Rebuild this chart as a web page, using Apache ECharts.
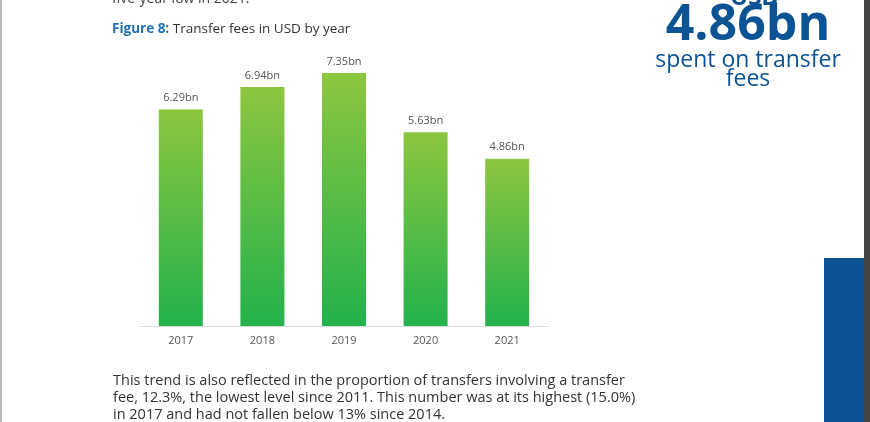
<!DOCTYPE html>
<html>
<head>
<meta charset="utf-8">
<script src="https://cdn.jsdelivr.net/npm/echarts@6/dist/echarts.min.js"></script>
<style>
html,body{margin:0;padding:0;background:#fff;}
#main{width:870px;height:422px;}
</style>
</head>
<body>
<div id="main"></div>
<script>
var years = ['2017', '2018', '2019', '2020', '2021'];
var fees = [6.29, 6.94, 7.35, 5.63, 4.86];
var textFont = "'Liberation Sans Narrow', 'Open Sans', sans-serif";
var para = [
    'This trend is also reflected in the proportion of transfers involving a transfer',
    'fee, 12.3%, the lowest level since 2011. This number was at its highest (15.0%)',
    'in 2017 and had not fallen below 13% since 2014.'
];

var mychart = echarts.init(document.getElementById('main'));
option = {
    backgroundColor: '#fff',
    animation: false,
    grid: { left: 140, right: 322, top: 73, bottom: 96 },
    xAxis: {
        type: 'category',
        data: years,
        axisTick: { show: false },
        axisLine: { lineStyle: { color: '#dddddd', width: 1 } },
        axisLabel: { color: '#555', fontSize: 11, margin: 9, fontFamily: textFont }
    },
    yAxis: {
        type: 'value',
        min: 0,
        max: 7.35,
        show: false,
        splitLine: { show: false }
    },
    series: [{
        type: 'bar',
        data: fees,
        barWidth: 44,
        itemStyle: {
            color: new echarts.graphic.LinearGradient(0, 0, 0, 1, [
                { offset: 0, color: '#8dc63f' },
                { offset: 1, color: '#22b24c' }
            ])
        },
        label: {
            show: true,
            position: 'top',
            distance: 6,
            color: '#555',
            fontSize: 11,
            fontFamily: textFont,
            formatter: function (p) { return p.value.toFixed(2) + 'bn'; }
        }
    }],
    graphic: [
        { type: 'rect', shape: { x: 0, y: 0, width: 2, height: 422 }, style: { fill: '#bbb' } },
        { type: 'rect', shape: { x: 864, y: 0, width: 6, height: 422 }, style: { fill: '#444' } },
        { type: 'rect', shape: { x: 824, y: 258, width: 40, height: 164 }, style: { fill: '#0b5394' } },
        { type: 'text', left: 112, top: -8, style: { text: 'five-year low in 2021.', fill: '#444', font: '14px ' + textFont } },
        { type: 'text', left: 112, top: 22, style: {
            text: '{b|Figure 8:} Transfer fees in USD by year',
            rich: {
                b: { fill: '#1f6fb4', fontWeight: 'bold', fontSize: 13.5, fontFamily: textFont }
            },
            fill: '#333', font: '13.5px ' + textFont } },
        { type: 'text', left: 730, top: -14, style: { text: 'USD', fill: '#0b5394', font: 'bold 24px ' + textFont, align: 'center' } },
        { type: 'text', x: 748, y: 26, style: { text: '4.86bn', fill: '#0b5394', font: 'bold 50px ' + textFont, align: 'center', verticalAlign: 'middle' } },
        { type: 'text', x: 748, y: 60, style: { text: 'spent on transfer', fill: '#0b5394', font: '23px ' + textFont, align: 'center', verticalAlign: 'middle' } },
        { type: 'text', x: 748, y: 79, style: { text: 'fees', fill: '#0b5394', font: '23px ' + textFont, align: 'center', verticalAlign: 'middle' } },
        { type: 'text', left: 113, top: 372, style: { text: para.join('\n'), fill: '#333', font: '14.5px ' + textFont, lineHeight: 17 } }
    ]
};
mychart.setOption(option, true);
</script>
</body>
</html>
